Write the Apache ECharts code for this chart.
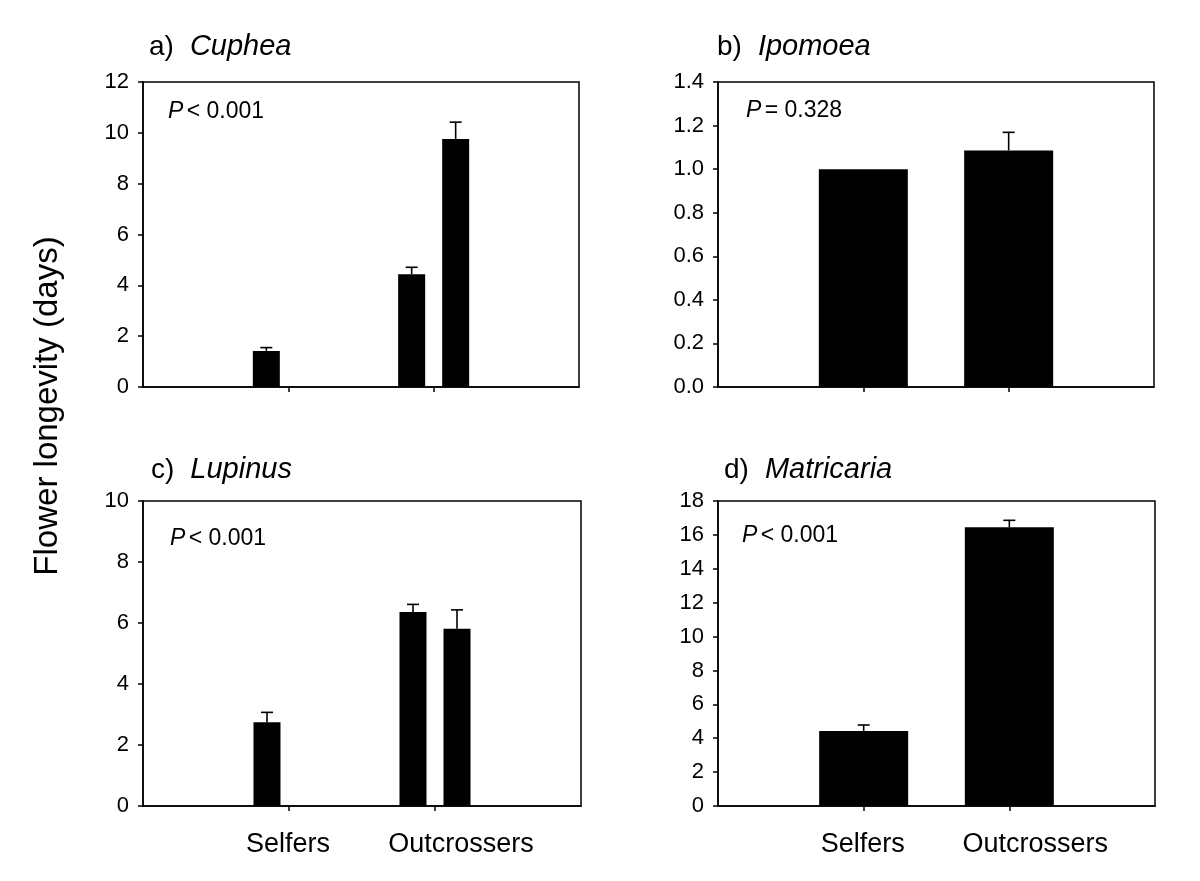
<!DOCTYPE html>
<html>
<head>
<meta charset="utf-8">
<script src="https://cdn.jsdelivr.net/npm/echarts@6/dist/echarts.min.js"></script>
<style>
html,body{margin:0;padding:0;background:#fff;}
#chart{width:1200px;height:881px;}
</style>
</head>
<body>
<div id="chart"></div>
<script>
// ---- data ----
const categories = ['', 'Selfers', 'Outcrossers', ''];
const yAxisTitle = 'Flower longevity (days)';

const panelLetters = ['a)', 'b)', 'c)', 'd)'];
const panelGenera = ['Cuphea', 'Ipomoea', 'Lupinus', 'Matricaria'];
const panelPText = ['< 0.001', '= 0.328', '< 0.001', '< 0.001'];

// y scales: [max, interval, decimals]
const yMaxes = [12, 1.4, 10, 18];
const yIntervals = [2, 0.2, 2, 2];
const yDecimals = [0, 1, 0, 0];

// Cuphea (two bars per group) : [Selfers, Outcrossers]
const cupheaMean1 = [1.42, 4.44];
const cupheaSE1 = [0.13, 0.27];
const cupheaMean2 = [0, 9.76];
const cupheaSE2 = [0, 0.66];

// Ipomoea (one bar per group)
const ipomoeaMean = [1.00, 1.086];
const ipomoeaSE = [0, 0.083];

// Lupinus (two bars per group)
const lupinusMean1 = [2.75, 6.36];
const lupinusSE1 = [0.32, 0.25];
const lupinusMean2 = [0, 5.81];
const lupinusSE2 = [0, 0.62];

// Matricaria (one bar per group)
const matricariaMean = [4.43, 16.45];
const matricariaSE = [0.35, 0.41];

// ---- layout ----
const FONT = 'Liberation Sans, Arial, Helvetica, sans-serif';
const grids = [
  {left: 143, top: 82, width: 436, height: 305},
  {left: 718, top: 82, width: 436, height: 305},
  {left: 143, top: 501, width: 438, height: 305},
  {left: 718, top: 501, width: 437, height: 305}
];
const titlePos = [
  {left: 144, top: 27},
  {left: 712, top: 27},
  {left: 146, top: 450},
  {left: 719, top: 450}
];
const pPos = [[168, 113], [746, 112], [170, 540], [742, 537]];

const panelSeries = [
  [{m: cupheaMean1, se: cupheaSE1}, {m: cupheaMean2, se: cupheaSE2}],
  [{m: ipomoeaMean, se: ipomoeaSE}],
  [{m: lupinusMean1, se: lupinusSE1}, {m: lupinusMean2, se: lupinusSE2}],
  [{m: matricariaMean, se: matricariaSE}]
];

function padArr(a) { return [null].concat(a, [null]); }

const chart = echarts.init(document.getElementById('chart'), null, {renderer: 'canvas'});

const option = {
  animation: false,
  backgroundColor: '#ffffff',
  textStyle: {fontFamily: FONT, color: '#000'},
  title: [],
  grid: [],
  xAxis: [],
  yAxis: [],
  series: [],
  graphic: []
};

for (let p = 0; p < 4; p++) {
  option.grid.push(Object.assign({show: true, borderColor: '#000', borderWidth: 1.5, backgroundColor: 'transparent', containLabel: false}, grids[p]));
  option.title.push({
    left: titlePos[p].left, top: titlePos[p].top,
    text: '{n|' + panelLetters[p] + '}{g|}{i|' + panelGenera[p] + '}',
    textStyle: {
      fontWeight: 'normal',
      rich: {
        n: {fontFamily: FONT, fontSize: 28, fontWeight: 'normal', color: '#000', lineHeight: 30},
        g: {width: 16, lineHeight: 30},
        i: {fontFamily: FONT, fontSize: 29, fontWeight: 'normal', fontStyle: 'italic', color: '#000', lineHeight: 30}
      }
    }
  });
  const bottomRow = p >= 2;
  option.xAxis.push({
    type: 'category', gridIndex: p, data: categories, boundaryGap: false,
    axisLine: {show: true, onZero: false, lineStyle: {color: '#000', width: 1.5}},
    axisTick: {show: true, length: 5, lineStyle: {color: '#000', width: 1.5}, interval: function (i) { return i === 1 || i === 2; }},
    axisLabel: {
      show: bottomRow, margin: 24, interval: 0,
      formatter: function (v) { return v === 'Selfers' ? '{s|' + v + '}' : (v === '' ? '' : '{o|' + v + '}'); },
      rich: {
        s: {fontFamily: FONT, fontSize: 27, color: '#000', lineHeight: 30, padding: [0, 2, 0, 0]},
        o: {fontFamily: FONT, fontSize: 27, color: '#000', lineHeight: 30, padding: [0, 0, 0, 52]}
      }
    },
    splitLine: {show: false}
  });
  const dec = yDecimals[p];
  option.yAxis.push({
    type: 'value', gridIndex: p, min: 0, max: yMaxes[p], interval: yIntervals[p],
    axisLine: {show: true, lineStyle: {color: '#000', width: 1.5}},
    axisTick: {show: true, length: 5, lineStyle: {color: '#000', width: 1.5}},
    axisLabel: {fontFamily: FONT, fontSize: 22, color: '#000', margin: 14,
      formatter: function (v) { return v.toFixed(dec); }},
    splitLine: {show: false}
  });

  const sers = panelSeries[p];
  const twoBars = sers.length === 2;
  const bw = twoBars ? 27 : 89;
  sers.forEach(function (s, k) {
    option.series.push({
      type: 'bar', xAxisIndex: p, yAxisIndex: p,
      data: padArr(s.m), barWidth: bw, barGap: twoBars ? '63%' : '30%',
      itemStyle: {color: '#000'}, silent: true
    });
  });
  sers.forEach(function (s, k) {
    const offset = twoBars ? (k === 0 ? -22 : 22) : 0;
    const errData = [];
    s.m.forEach(function (m, i) {
      if (s.se[i] > 0) errData.push([i + 1, m + s.se[i], m]);
    });
    option.series.push({
      type: 'custom', xAxisIndex: p, yAxisIndex: p, silent: true, z: 5,
      data: errData,
      renderItem: function (params, api) {
        const pTop = api.coord([api.value(0), api.value(1)]);
        const pMid = api.coord([api.value(0), api.value(2)]);
        const x = pTop[0] + offset;
        const style = {stroke: '#000', lineWidth: 1.6, fill: null};
        return {
          type: 'group',
          children: [
            {type: 'line', shape: {x1: x, y1: pMid[1], x2: x, y2: pTop[1]}, style: style},
            {type: 'line', shape: {x1: x - 6, y1: pTop[1], x2: x + 6, y2: pTop[1]}, style: style}
          ]
        };
      }
    });
  });

  option.graphic.push({
    type: 'text', left: pPos[p][0], top: pPos[p][1] - 13, silent: true,
    style: {
      text: '{i|P} {n|' + panelPText[p] + '}',
      rich: {
        i: {fontFamily: FONT, fontSize: 23, fontStyle: 'italic', fill: '#000'},
        n: {fontFamily: FONT, fontSize: 23, fill: '#000'}
      }
    }
  });
}

option.graphic.push({
  type: 'text', x: 48, y: 406, rotation: Math.PI / 2, silent: true,
  style: {text: yAxisTitle, fontFamily: FONT, fontSize: 33, fill: '#000', align: 'center', verticalAlign: 'middle'}
});

chart.setOption(option);
</script>
</body>
</html>
